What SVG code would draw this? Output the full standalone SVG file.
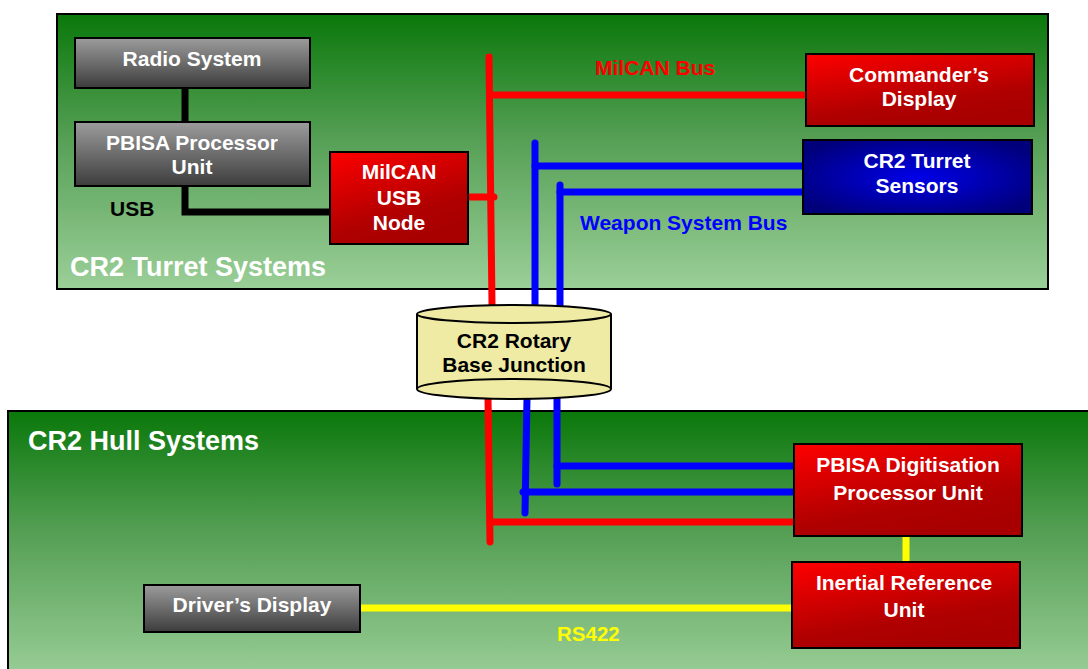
<svg xmlns="http://www.w3.org/2000/svg" width="1088" height="669" viewBox="0 0 1088 669">
<defs>
<linearGradient id="gPanel" x1="0" y1="0" x2="0" y2="1">
<stop offset="0" stop-color="#0a780a"/>
<stop offset="0.45" stop-color="#559f55"/>
<stop offset="1" stop-color="#9bcf98"/>
</linearGradient>
<linearGradient id="gGray" x1="0" y1="0" x2="0" y2="1">
<stop offset="0" stop-color="#9c9c9c"/>
<stop offset="1" stop-color="#3c3c3c"/>
</linearGradient>
<linearGradient id="gRed" x1="0" y1="0" x2="0.45" y2="1">
<stop offset="0" stop-color="#ff0000"/>
<stop offset="0.75" stop-color="#b00000"/>
<stop offset="1" stop-color="#a80000"/>
</linearGradient>
<radialGradient id="gBlue" cx="0.5" cy="0.5" r="0.6">
<stop offset="0" stop-color="#0000e8"/>
<stop offset="1" stop-color="#00007a"/>
</radialGradient>
<style>
.panel{fill:url(#gPanel);stroke:#000;stroke-width:2}
.gray{fill:url(#gGray);stroke:#000;stroke-width:2}
.red{fill:url(#gRed);stroke:#000;stroke-width:2}
.blue{fill:url(#gBlue);stroke:#000;stroke-width:2}
.cyl{fill:#efeba5;stroke:#000;stroke-width:2}
text{font-family:"Liberation Sans",Arial,sans-serif;font-weight:bold}
.lbl{fill:#fff;font-size:21px;text-anchor:middle}
.title{fill:#fff;font-size:27px}
.c{fill:none;stroke-width:7;stroke-linecap:round;stroke-linejoin:miter}
.cr{stroke:#ff0000}
.cb{stroke:#0000ff}
.ck{stroke:#000}
.cy{stroke:#ffff00}
</style>
</defs>
<rect width="1088" height="669" fill="#fff"/>
<g id="turret-panel">
<rect class="panel" x="57" y="14" width="991" height="275"/>
<text class="title" x="70" y="276">CR2 Turret Systems</text>
</g>
<g id="hull-panel">
<rect class="panel" x="8" y="411" width="1090" height="270"/>
<text class="title" x="28" y="450">CR2 Hull Systems</text>
</g>
<g id="connectors">
<path class="c ck" d="M185,88 L185,122"/>
<path class="c ck" d="M185,186 L185,212 L330,212" stroke-linecap="butt"/>
<path class="c cr" d="M489,57 L492,304"/>
<path class="c cr" d="M491,95 L806,95" stroke-linecap="butt"/>
<path class="c cr" d="M468,197 L494,197"/>
<path class="c cb" d="M535,143 L535,304"/>
<path class="c cb" d="M535,166 L803,166" stroke-linecap="butt"/>
<path class="c cb" d="M560,185 L560,306"/>
<path class="c cb" d="M560,192 L803,192" stroke-linecap="butt"/>
<path class="c cr" d="M488,398 L490,542"/>
<path class="c cr" d="M490,522 L794,522" stroke-linecap="butt"/>
<path class="c cb" d="M527,398 L525,513"/>
<path class="c cb" d="M523,492 L794,492"/>
<path class="c cb" d="M557,398 L557,484"/>
<path class="c cb" d="M557,466 L794,466" stroke-linecap="butt"/>
<path class="c cy" d="M906,538 L906,562"/>
<path class="c cy" d="M360,608 L792,608" stroke-linecap="butt"/>
<text x="595" y="75" fill="#ff0000" font-size="21">MilCAN Bus</text>
<text x="580" y="230" fill="#0000ff" font-size="21">Weapon System Bus</text>
<text x="110" y="216" fill="#000" font-size="21">USB</text>
<text x="557" y="641" fill="#ffff00" font-size="20.5">RS422</text>
</g>
<g id="radio-system">
<rect class="gray" x="75" y="38" width="235" height="50"/>
<text class="lbl" x="192" y="66">Radio System</text>
</g>
<g id="pbisa-processor-unit">
<rect class="gray" x="75" y="122" width="235" height="64"/>
<text class="lbl" x="192" y="150">PBISA Processor</text>
<text class="lbl" x="192" y="174">Unit</text>
</g>
<g id="milcan-usb-node">
<rect class="red" x="330" y="152" width="138" height="92"/>
<text class="lbl" x="399" y="179">MilCAN</text>
<text class="lbl" x="399" y="205">USB</text>
<text class="lbl" x="399" y="230">Node</text>
</g>
<g id="commanders-display">
<rect class="red" x="806" y="54" width="228" height="72"/>
<text class="lbl" x="919" y="82">Commander’s</text>
<text class="lbl" x="919" y="106">Display</text>
</g>
<g id="turret-sensors">
<rect class="blue" x="803" y="140" width="229" height="74"/>
<text class="lbl" x="917" y="168">CR2 Turret</text>
<text class="lbl" x="917" y="193">Sensors</text>
</g>
<g id="rotary-base-junction">
<path class="cyl" d="M417,314 L417,389 A97,10 0 0 0 611,389 L611,314"/>
<ellipse class="cyl" cx="514" cy="314" rx="97" ry="9"/>
<path d="M417,389 A97,10 0 0 1 611,389" fill="none" stroke="#000" stroke-width="2"/>
<text x="514" y="348" font-size="21" text-anchor="middle" fill="#000">CR2 Rotary</text>
<text x="514" y="372" font-size="21" text-anchor="middle" fill="#000">Base Junction</text>
</g>
<g id="pbisa-digitisation">
<rect class="red" x="794" y="444" width="228" height="92"/>
<text class="lbl" x="908" y="472">PBISA Digitisation</text>
<text class="lbl" x="908" y="500">Processor Unit</text>
</g>
<g id="inertial-reference-unit">
<rect class="red" x="792" y="562" width="228" height="86"/>
<text class="lbl" x="904" y="590">Inertial Reference</text>
<text class="lbl" x="904" y="617">Unit</text>
</g>
<g id="drivers-display">
<rect class="gray" x="144" y="585" width="216" height="47"/>
<text class="lbl" x="252" y="612">Driver’s Display</text>
</g>
</svg>
